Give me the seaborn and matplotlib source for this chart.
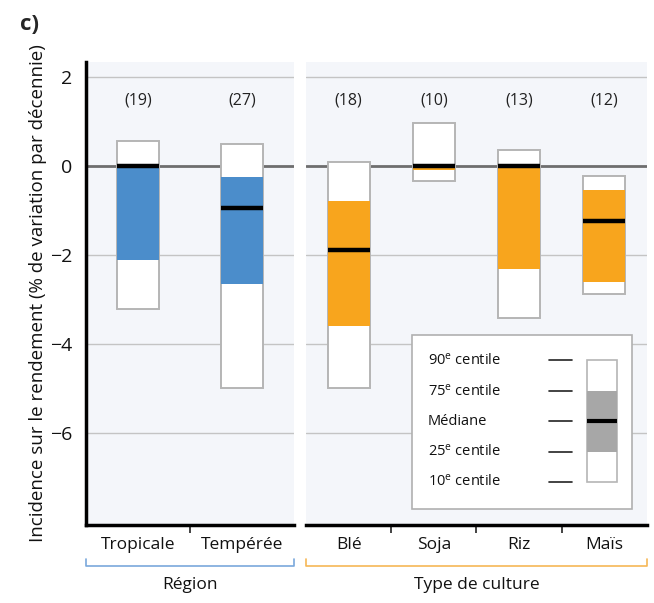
import matplotlib
matplotlib.use("Agg")
import matplotlib.pyplot as plt
import matplotlib.transforms as mtrans
from matplotlib.patches import Rectangle
import seaborn as sns
import numpy as np

# ---------------- data ----------------
region_cats = ["Tropicale", "Tempérée"]
region_p10 = [-3.22, -5.0]
region_p25 = [-2.12, -2.65]
region_med = [0.0, -0.94]
region_p75 = [0.0, -0.25]
region_p90 = [0.56, 0.5]
region_n = ["(19)", "(27)"]

crop_cats = ["Blé", "Soja", "Riz", "Maïs"]
crop_p10 = [-4.98, -0.33, -3.42, -2.88]
crop_p25 = [-3.59, -0.10, -2.31, -2.60]
crop_med = [-1.90, 0.0, 0.0, -1.24]
crop_p75 = [-0.79, 0.0, 0.0, -0.54]
crop_p90 = [0.09, 0.96, 0.36, -0.22]
crop_n = ["(18)", "(10)", "(13)", "(12)"]

yticks = [2, 0, -2, -4, -6]
ytick_labels = ["2", "0", "\u22122", "\u22124", "\u22126"]
group_labels = ["Région", "Type de culture"]
legend_labels = ["90$^{\\mathrm{e}}$ centile", "75$^{\\mathrm{e}}$ centile", "Médiane",
                 "25$^{\\mathrm{e}}$ centile", "10$^{\\mathrm{e}}$ centile"]

# ---------------- style ----------------
sns.set_theme(style="white")
FONT = "Open Sans"
plt.rcParams["font.family"] = [FONT, "DejaVu Sans"]
plt.rcParams["mathtext.fontset"] = "custom"
plt.rcParams["mathtext.rm"] = FONT
plt.rcParams["mathtext.it"] = FONT
plt.rcParams["mathtext.bf"] = FONT

BLUE = "#4b8dcb"
ORANGE = "#f8a51d"
BG = "#f4f6fa"
GRID = "#c4c4c4"
ZERO = "#6e6e6e"
EDGE = "#b5b5b5"

fig = plt.figure(figsize=(6.54, 6.03), dpi=100)
ax1 = fig.add_axes([0.1315, 0.1294, 0.318, 0.768])
ax2 = fig.add_axes([0.468, 0.1294, 0.521, 0.768])

YMIN, YMAX = -8.07, 2.34


def draw_panel(ax, cats, p10, p25, med, p75, p90, counts, color, width, bracket_color, group):
    ax.set_facecolor(BG)
    p10 = np.array(p10); p25 = np.array(p25); p75 = np.array(p75); p90 = np.array(p90)
    for g in [2, -2, -4, -6]:
        ax.axhline(g, color=GRID, lw=1.0, zorder=1)
    ax.axhline(0, color=ZERO, lw=2.0, zorder=1.5)
    sns.barplot(x=cats, y=p90 - p10, bottom=p10, order=cats, color="white",
                saturation=1, edgecolor=EDGE, linewidth=1.4, width=width,
                errorbar=None, ax=ax, zorder=3)
    sns.barplot(x=cats, y=p75 - p25, bottom=p25, order=cats, color=color,
                saturation=1, edgecolor="none", linewidth=0, width=width,
                errorbar=None, ax=ax, zorder=4)
    xs = np.arange(len(cats))
    ax.hlines(med, xs - width / 2, xs + width / 2, color="black", lw=3.2, zorder=5)
    for i, c in enumerate(counts):
        ax.text(xs[i], 1.47, c, ha="center", va="center", fontsize=11.5, color="#222222")
    ax.set_ylim(YMIN, YMAX)
    ax.set_xlim(-0.5, len(cats) - 0.5)
    ax.set_xticks(xs, labels=cats)
    ax.set_xticks(np.arange(len(cats) - 1) + 0.5, minor=True)
    ax.tick_params(axis="x", which="major", length=0, pad=9, labelsize=12.5, labelcolor="#111111")
    ax.tick_params(axis="x", which="minor", length=6, width=1.2, direction="out", color="#222222", bottom=True)
    ax.set_xlabel("")
    for s in ["top", "right", "left"]:
        ax.spines[s].set_visible(False)
    ax.spines["bottom"].set_color("black")
    ax.spines["bottom"].set_linewidth(2.5)
    # bracket
    tr = mtrans.blended_transform_factory(ax.transAxes, ax.transAxes)
    ax.plot([0.0, 0.0, 1.0, 1.0], [-0.074, -0.089, -0.089, -0.074], color=bracket_color,
            lw=1.2, transform=tr, clip_on=False)
    ax.text(0.5, -0.13, group, transform=ax.transAxes, ha="center", va="center",
            fontsize=12.5, color="#111111")


draw_panel(ax1, region_cats, region_p10, region_p25, region_med, region_p75, region_p90,
           region_n, BLUE, 0.40, "#7aa8dc", group_labels[0])
draw_panel(ax2, crop_cats, crop_p10, crop_p25, crop_med, crop_p75, crop_p90,
           crop_n, ORANGE, 0.49, "#f6b756", group_labels[1])

# left axis
ax1.spines["left"].set_visible(True)
ax1.spines["left"].set_color("black")
ax1.spines["left"].set_linewidth(2.5)
ax1.set_yticks(yticks, labels=ytick_labels)
ax1.tick_params(axis="y", length=0, pad=10, labelsize=14, labelcolor="#111111")
ax1.set_ylabel("Incidence sur le rendement (% de variation par décennie)", fontsize=13.5,
               color="#111111", labelpad=2)
ax2.set_yticks([])
ax2.set_ylabel("")

# legend box (inside right panel)
ax2.add_patch(Rectangle((0.311, 0.035), 0.645, 0.375, transform=ax2.transAxes,
                        facecolor="white", edgecolor="#b0b0b0", lw=1.2, zorder=6))
rows = [0.356, 0.289, 0.224, 0.158, 0.093]
for lab, yy in zip(legend_labels, rows):
    ax2.text(0.358, yy, lab, transform=ax2.transAxes, ha="left", va="center",
             fontsize=10.5, color="#111111", zorder=7)
    ax2.plot([0.713, 0.780], [yy, yy], transform=ax2.transAxes, color="#222222",
             lw=1.2, zorder=7)
ax2.add_patch(Rectangle((0.824, rows[4]), 0.088, rows[0] - rows[4], transform=ax2.transAxes,
                        facecolor="white", edgecolor=EDGE, lw=1.2, zorder=7))
ax2.add_patch(Rectangle((0.824, rows[3]), 0.088, rows[1] - rows[3], transform=ax2.transAxes,
                        facecolor="#a7a7a7", edgecolor="none", zorder=8))
ax2.plot([0.824, 0.912], [rows[2], rows[2]], transform=ax2.transAxes, color="black",
         lw=3, zorder=9, solid_capstyle="butt")

fig.text(0.030, 1 - 25 / 603, "c)", fontsize=16, fontweight="bold", ha="left", va="center")

fig.savefig("out.png", dpi=100, facecolor="white")
